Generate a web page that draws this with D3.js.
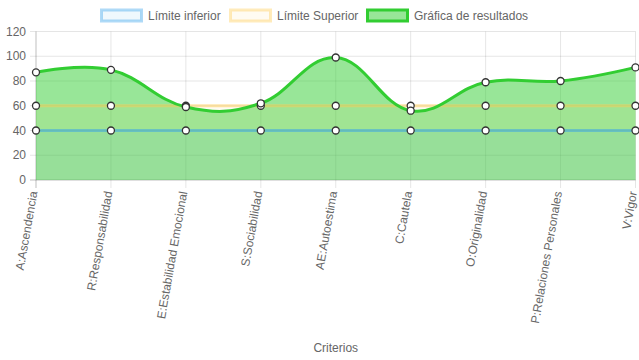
<!DOCTYPE html>
<html><head><meta charset="utf-8">
<script src="https://cdn.jsdelivr.net/npm/d3@7"></script>
<style>body{margin:0;background:#fff}svg{display:block;font-family:"Liberation Sans",Arial,sans-serif}</style>
</head><body><svg id="c" width="639" height="360"></svg>
<script>
const categories = ["A:Ascendencia","R:Responsabilidad","E:Estabilidad Emocional","S:Sociabilidad","AE:Autoestima","C:Cautela","O:Originalidad","P:Relaciones Personales","V:Vigor"];
const lowerLimit = [40,40,40,40,40,40,40,40,40];
const upperLimit = [60,60,60,60,60,60,60,60,60];
const results = [87,89,59,62,99,56,79,80,91];
const yTicks = [0,20,40,60,80,100,120];
const seriesNames = ["Límite inferior","Límite Superior","Gráfica de resultados"];

const svg = d3.select("#c");
const L=36, R=635.5, T=31.5, B=180;
const x = d3.scalePoint().domain(categories).range([L,R]);
const y = d3.scaleLinear().domain([0,120]).range([B,T]);
const grey="#666";

const g = svg.append("g");
g.selectAll(".hg").data(yTicks).join("line")
 .attr("x1",L-6).attr("x2",R).attr("y1",d=>y(d)).attr("y2",d=>y(d))
 .attr("stroke",d=>d===0?"rgba(0,0,0,0.25)":"rgba(0,0,0,0.1)").attr("stroke-width",1);
g.selectAll(".vg").data(categories).join("line")
 .attr("x1",d=>x(d)).attr("x2",d=>x(d)).attr("y1",T).attr("y2",B+8)
 .attr("stroke",(d,i)=>i===0?"rgba(0,0,0,0.25)":"rgba(0,0,0,0.1)").attr("stroke-width",1);

g.selectAll(".yl").data(yTicks).join("text")
 .attr("x",L-10).attr("y",d=>y(d)).attr("dy","0.35em").attr("text-anchor","end")
 .attr("font-size",12).attr("fill",grey).text(d=>d);

g.selectAll(".xl").data(categories).join("text")
 .attr("transform",d=>`translate(${x(d)+1.5},${B+12}) rotate(-80)`)
 .attr("text-anchor","end").attr("font-size",12).attr("fill",grey).text(d=>d);

svg.append("text").attr("x",(L+R)/2).attr("y",352).attr("text-anchor","middle")
 .attr("font-size",12).attr("fill",grey).text("Criterios");

const curve = d3.curveCardinal.tension(-0.2);
const area = d3.area().x((d,i)=>x(categories[i])).y0(y(0)).y1(d=>y(d)).curve(curve);
const line = d3.line().x((d,i)=>x(categories[i])).y(d=>y(d)).curve(curve);

svg.append("path").attr("d",area(results)).attr("fill","rgba(50,205,50,0.5)");
svg.append("path").attr("d",area(upperLimit)).attr("fill","rgba(255,205,86,0.08)");
svg.append("path").attr("d",area(lowerLimit)).attr("fill","rgba(54,162,235,0.08)");

svg.append("path").attr("d",line(lowerLimit)).attr("fill","none").attr("stroke","rgba(54,162,235,0.5)").attr("stroke-width",3);
svg.append("path").attr("d",line(upperLimit)).attr("fill","none").attr("stroke","rgba(255,205,86,0.5)").attr("stroke-width",3);
svg.append("path").attr("d",line(results)).attr("fill","none").attr("stroke","#32cd32").attr("stroke-width",3);

[lowerLimit,upperLimit,results].forEach(s=>{
 svg.append("g").selectAll("circle").data(s).join("circle")
  .attr("cx",(d,i)=>x(categories[i])).attr("cy",d=>y(d)).attr("r",3.5)
  .attr("fill","#fff").attr("stroke","#333").attr("stroke-width",1.3);
});

const leg = [
 {name:seriesNames[0],x:100,stroke:"rgba(54,162,235,0.4)",fill:"rgba(54,162,235,0.08)"},
 {name:seriesNames[1],x:229,stroke:"rgba(255,205,86,0.4)",fill:"rgba(255,205,86,0.08)"},
 {name:seriesNames[2],x:366,stroke:"#32cd32",fill:"rgba(50,205,50,0.5)"}];
const lg = svg.append("g").selectAll("g").data(leg).join("g");
lg.append("rect").attr("x",d=>d.x+1.5).attr("y",10).attr("width",40).attr("height",11)
 .attr("fill",d=>d.fill).attr("stroke",d=>d.stroke).attr("stroke-width",3);
lg.append("text").attr("x",d=>d.x+48).attr("y",15.5).attr("dy","0.35em")
 .attr("font-size",12).attr("fill",grey).text(d=>d.name);
</script></body></html>
